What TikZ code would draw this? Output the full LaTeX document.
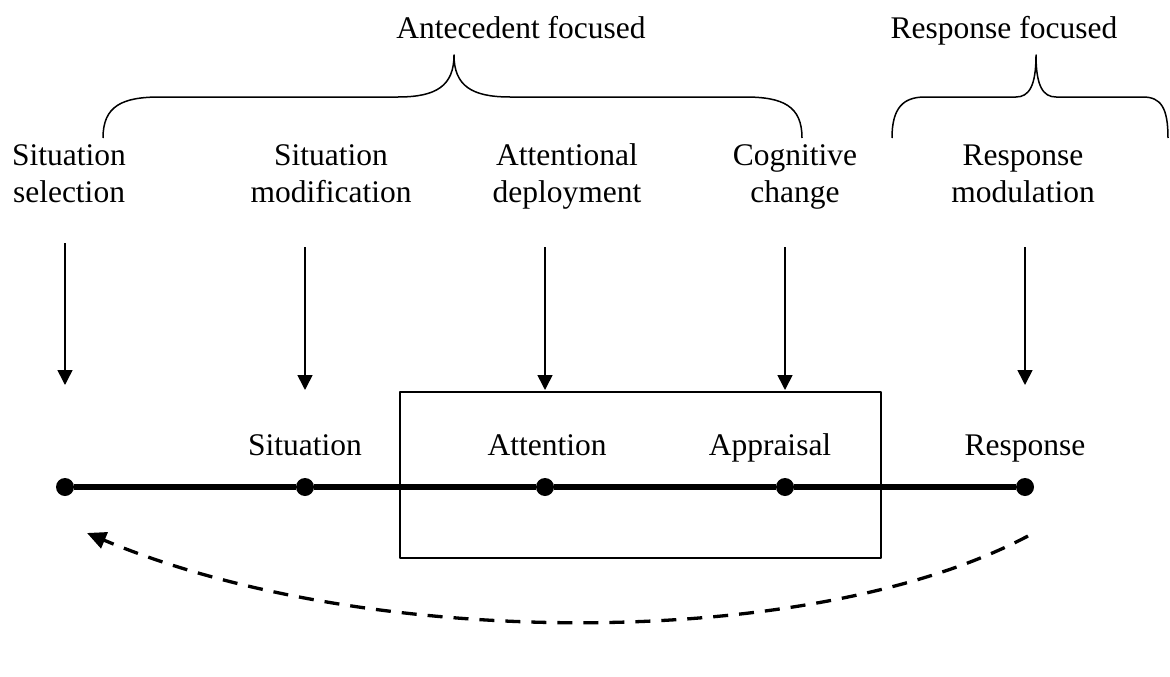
\documentclass[tikz,border=0pt]{standalone}
\usepackage{fontspec}
\setmainfont{Liberation Serif}
\usepackage{tikz}
\usetikzlibrary{arrows.meta,positioning}
\tikzset{
    every picture/.style={line cap=butt,line join=round},
    stagelabel/.style={align=center,anchor=base,inner sep=0pt,
      font=\fontsize{31.5}{37}\selectfont},
    pointlabel/.style={anchor=base,inner sep=0pt,
      font=\fontsize{31.5}{37}\selectfont},
    tdot/.style={circle,fill=black,minimum size=18pt,inner sep=0pt,outer sep=0pt},
    timeline/.style={line width=5.5pt},
    inarrow/.style={-{Triangle[length=15pt,width=15pt]},line width=1.6pt},
    backarrow/.style={-{Triangle[length=19pt,width=17pt]},line width=3.3pt,
      dash pattern=on 15pt off 11pt},
    bracepath/.style={line width=1.5pt},
    procbox/.style={draw,line width=1.3pt,minimum width=481pt,
      minimum height=166pt,inner sep=0pt}
}
\begin{document}
\begin{tikzpicture}[x=1pt,y=-1pt]
  \useasboundingbox (0,0) rectangle (1170,677);
  % groups
  \node[pointlabel] (antec) at (521,39) {Antecedent focused};
  \node[pointlabel] (respf) at (1004,39) {Response focused};
  \draw[bracepath] (103,138) .. controls (103,106) and (122,97) .. (160,97) -- (398,97)
    .. controls (436,97) and (454,86) .. (454,55)
    .. controls (454,86) and (472,97) .. (510,97) -- (745,97)
    .. controls (783,97) and (802,106) .. (802,138);
  \draw[bracepath] (892,138) .. controls (892,108) and (903,97) .. (925,97) -- (1016,97)
    .. controls (1029,97) and (1036,86) .. (1036,55)
    .. controls (1036,86) and (1043,97) .. (1056,97) -- (1143,97)
    .. controls (1161,97) and (1168,108) .. (1168,138);
  % strategies (base = second line)
  \node[stagelabel] (sSel) at (69,202) {Situation\\selection};
  \node[stagelabel] (sMod) at (331,202) {Situation\\modification};
  \node[stagelabel] (sAtt) at (567,202) {Attentional\\deployment};
  \node[stagelabel] (sCog) at (795,202) {Cognitive\\change};
  \node[stagelabel] (sRes) at (1023,202) {Response\\modulation};
  \coordinate (tSel) at (65,243);  \coordinate (hSel) at (65,385);
  \coordinate (tMod) at (305,247); \coordinate (hMod) at (305,390);
  \coordinate (tAtt) at (545,247); \coordinate (hAtt) at (545,390);
  \coordinate (tCog) at (785,247); \coordinate (hCog) at (785,390);
  \coordinate (tRes) at (1025,247); \coordinate (hRes) at (1025,385);
  \foreach \s in {Sel,Mod,Att,Cog,Res}
    \draw[inarrow] (t\s) -- (h\s);
  % process
  \node[procbox] (box) at (640.5,475) {};
  \node[pointlabel] (lSit) at (305,455) {Situation};
  \node[pointlabel] (lAtt) at (547,455) {Attention};
  \node[pointlabel] (lApp) at (770,455) {Appraisal};
  \node[pointlabel] (lRes) at (1025,455) {Response};
  \node[tdot] (pSel) at (65,487) {};
  \node[tdot] (pSit) at (305,487) {};
  \node[tdot] (pAtt) at (545,487) {};
  \node[tdot] (pApp) at (785,487) {};
  \node[tdot] (pRes) at (1025,487) {};
  \draw[timeline] (pSel) -- (pSit) -- (pAtt) -- (pApp) -- (pRes);
  % feedback
  \coordinate (fbFrom) at (1028,536);
  \coordinate (fbTo) at (87,533);
  \draw[backarrow] (fbFrom) .. controls (811,651) and (368,651) .. (fbTo);
\end{tikzpicture}
\end{document}
